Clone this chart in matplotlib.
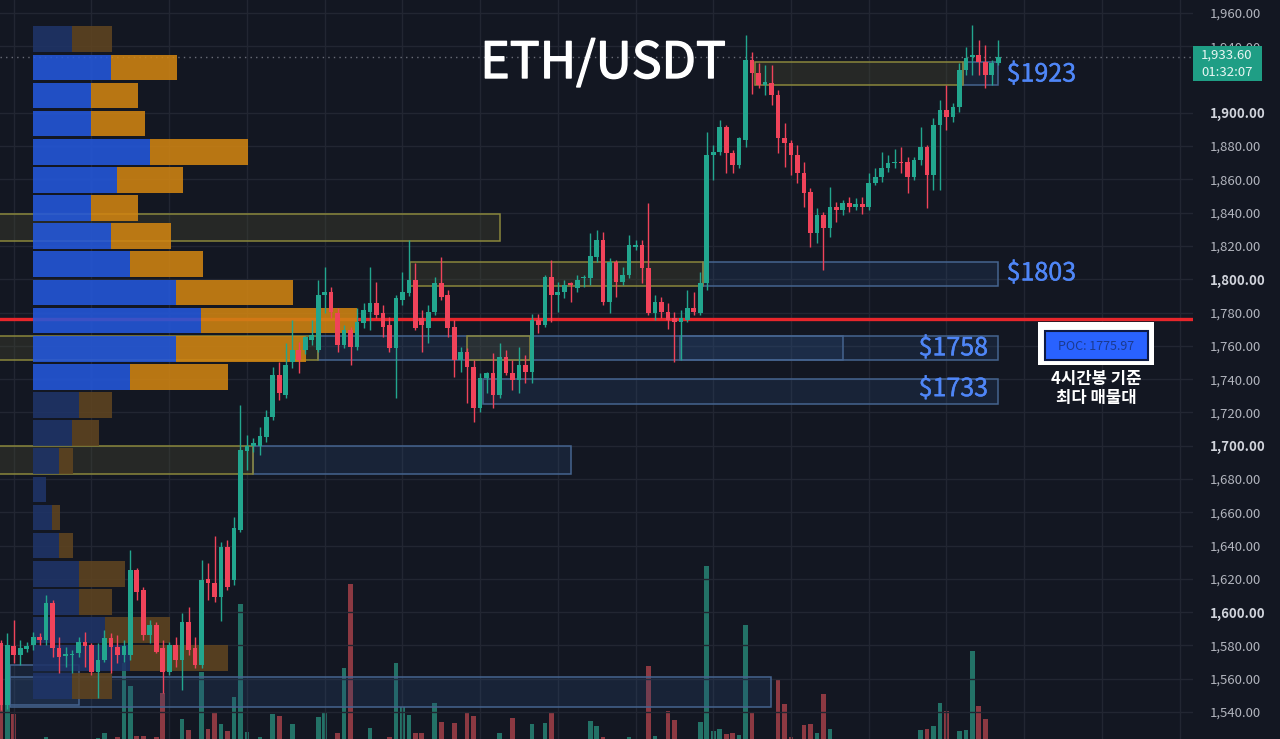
import numpy as np
import matplotlib.pyplot as plt
import matplotlib.transforms as mtransforms
import matplotlib.patheffects as pe
from matplotlib.patches import Rectangle

plt.rcParams['font.family'] = ['Noto Sans CJK KR', 'DejaVu Sans']

# ---- 4h candles (ETH/USDT) ----
opens = [1581.5, 1544.2, 1579.7, 1574.3, 1577.9, 1580.3, 1585.1, 1583.3, 1605.5, 1578.5,
         1573.6, 1574.3, 1575.5, 1582.1, 1580.3, 1564.0, 1571.2, 1584.5, 1579.1, 1574.3,
         1574.3, 1625.3, 1613.3, 1586.3, 1592.3, 1578.5, 1564.0, 1580.3, 1571.2, 1594.1,
         1578.5, 1568.2, 1619.9, 1617.5, 1609.1, 1639.2, 1619.3, 1649.4, 1696.8, 1699.8,
         1699.8, 1705.2, 1717.3, 1742.5, 1730.5, 1750.3, 1757.5, 1757.5, 1763.5, 1757.5,
         1790.6, 1792.4, 1779.7, 1760.5, 1769.5, 1759.3, 1773.7, 1780.3, 1785.7, 1779.7,
         1772.5, 1758.7, 1787.6, 1791.8, 1799.6, 1776.7, 1770.7, 1780.3, 1797.8, 1790.6,
         1771.3, 1751.5, 1756.3, 1747.3, 1722.7, 1740.7, 1743.7, 1730.5, 1753.3, 1743.7,
         1739.5, 1748.5, 1744.3, 1775.5, 1772.5, 1801.4, 1790.6, 1792.4, 1797.8, 1794.8,
         1800.8, 1800.8, 1813.4, 1823.6, 1786.3, 1810.4, 1798.4, 1802.6, 1819.4, 1820.6,
         1806.8, 1779.7, 1786.3, 1780.3, 1776.7, 1774.3, 1775.5, 1782.7, 1779.7, 1797.8,
         1874.7, 1876.5, 1891.5, 1875.9, 1868.7, 1883.7, 1931.7, 1923.9, 1916.7, 1917.9,
         1910.7, 1884.9, 1881.9, 1874.7, 1863.8, 1852.4, 1827.8, 1838.6, 1830.8, 1843.4,
         1841.6, 1845.8, 1843.4, 1845.2, 1843.4, 1857.8, 1861.4, 1866.9, 1869.9, 1870.5,
         1870.5, 1861.4, 1871.7, 1879.5, 1862.6, 1892.7, 1901.7, 1897.5, 1903.5, 1925.7,
         1933.6, 1934.8, 1930.6, 1922.7, 1930.0]
closes = [1544.2, 1580.3, 1574.3, 1578.5, 1579.7, 1585.1, 1583.3, 1605.5, 1578.5, 1573.0,
          1574.9, 1574.9, 1582.1, 1579.7, 1564.0, 1571.2, 1584.5, 1579.1, 1574.3, 1579.7,
          1625.3, 1612.1, 1586.3, 1592.3, 1576.1, 1564.0, 1580.3, 1571.2, 1594.1, 1577.3,
          1568.2, 1619.3, 1617.5, 1609.1, 1639.2, 1615.1, 1650.6, 1697.4, 1699.8, 1701.6,
          1705.8, 1717.3, 1742.5, 1731.7, 1748.5, 1757.5, 1751.5, 1765.3, 1766.5, 1790.6,
          1792.4, 1780.3, 1760.5, 1769.5, 1759.3, 1774.3, 1781.5, 1785.7, 1778.5, 1771.3,
          1758.7, 1788.7, 1792.4, 1799.6, 1770.7, 1772.5, 1780.3, 1797.8, 1789.4, 1770.7,
          1751.5, 1756.3, 1747.3, 1722.7, 1740.7, 1743.7, 1730.5, 1753.3, 1743.7, 1739.5,
          1748.5, 1744.3, 1775.5, 1772.5, 1801.4, 1790.6, 1792.4, 1796.6, 1796.6, 1799.6,
          1801.4, 1814.0, 1823.6, 1786.3, 1810.4, 1798.4, 1802.6, 1820.6, 1820.6, 1806.8,
          1779.7, 1786.3, 1780.3, 1775.5, 1774.3, 1776.7, 1782.7, 1780.3, 1797.8, 1874.7,
          1876.5, 1891.5, 1875.9, 1868.7, 1884.9, 1931.7, 1923.9, 1916.7, 1918.5, 1910.7,
          1884.9, 1881.9, 1874.7, 1863.8, 1851.8, 1827.8, 1838.6, 1830.8, 1843.4, 1841.6,
          1845.8, 1843.4, 1845.2, 1843.4, 1857.8, 1861.4, 1866.9, 1869.9, 1870.5, 1869.9,
          1861.4, 1871.7, 1879.5, 1862.6, 1892.7, 1901.7, 1897.5, 1903.5, 1925.7, 1933.0,
          1934.8, 1930.6, 1922.7, 1930.0, 1933.6]
highs = [1583.0, 1587.4, 1595.3, 1583.3, 1582.1, 1588.0, 1587.4, 1610.3, 1607.3, 1585.1,
         1579.1, 1577.3, 1585.1, 1588.0, 1581.5, 1581.5, 1589.3, 1587.4, 1586.3, 1583.3,
         1637.3, 1626.5, 1615.1, 1595.3, 1594.1, 1583.3, 1582.1, 1585.1, 1599.5, 1603.1,
         1585.1, 1631.3, 1629.3, 1645.8, 1642.1, 1643.2, 1657.0, 1724.5, 1706.4, 1704.4,
         1711.2, 1721.3, 1747.3, 1750.3, 1761.7, 1775.5, 1762.3, 1766.0, 1775.5, 1799.6,
         1807.2, 1795.4, 1782.7, 1772.5, 1771.3, 1782.7, 1785.7, 1807.4, 1798.4, 1784.5,
         1777.3, 1790.6, 1804.4, 1823.6, 1809.8, 1781.5, 1784.5, 1801.4, 1813.4, 1793.6,
         1775.3, 1759.3, 1758.7, 1751.5, 1743.7, 1744.3, 1755.7, 1761.7, 1757.5, 1751.5,
         1759.3, 1754.5, 1779.1, 1779.1, 1802.6, 1811.6, 1798.4, 1799.6, 1798.4, 1802.6,
         1802.6, 1827.8, 1829.4, 1828.2, 1812.8, 1811.6, 1807.4, 1826.6, 1823.6, 1823.6,
         1845.8, 1790.6, 1789.4, 1785.7, 1780.3, 1781.5, 1793.6, 1792.4, 1804.4, 1888.5,
         1880.7, 1895.7, 1892.7, 1877.7, 1885.5, 1946.8, 1936.6, 1930.0, 1928.7, 1928.7,
         1913.7, 1893.9, 1883.7, 1880.7, 1870.5, 1854.8, 1842.8, 1840.4, 1855.4, 1846.4,
         1847.6, 1849.4, 1848.8, 1849.4, 1863.8, 1866.9, 1876.5, 1874.7, 1878.3, 1879.5,
         1873.5, 1873.5, 1891.5, 1880.7, 1896.9, 1907.7, 1916.7, 1905.9, 1930.0, 1939.6,
         1952.8, 1943.6, 1940.8, 1931.7, 1943.6]
lows = [1541.0, 1542.0, 1569.5, 1568.2, 1576.1, 1577.3, 1580.3, 1580.3, 1573.0, 1563.4,
        1567.0, 1563.4, 1573.0, 1567.0, 1562.2, 1548.4, 1570.0, 1563.4, 1569.5, 1570.0,
        1571.2, 1607.3, 1583.3, 1581.5, 1575.5, 1551.4, 1562.2, 1567.3, 1553.2, 1574.3,
        1566.2, 1566.2, 1607.1, 1606.1, 1594.9, 1613.3, 1616.3, 1648.2, 1685.4, 1696.2,
        1694.4, 1702.0, 1715.3, 1727.3, 1728.7, 1746.7, 1743.7, 1755.0, 1760.5, 1756.3,
        1779.7, 1776.7, 1756.3, 1758.7, 1748.5, 1757.5, 1770.7, 1769.5, 1776.7, 1765.3,
        1756.3, 1728.7, 1784.5, 1790.0, 1769.5, 1756.3, 1761.7, 1778.5, 1787.6, 1765.3,
        1741.1, 1744.3, 1725.5, 1714.1, 1720.3, 1731.7, 1722.7, 1728.7, 1742.5, 1733.5,
        1731.7, 1737.7, 1737.7, 1767.5, 1771.3, 1774.3, 1780.3, 1788.7, 1786.3, 1792.4,
        1795.4, 1796.6, 1810.4, 1784.5, 1779.7, 1789.4, 1796.6, 1800.8, 1817.6, 1797.8,
        1778.5, 1775.5, 1776.7, 1770.1, 1750.3, 1751.5, 1774.3, 1778.5, 1778.5, 1793.6,
        1859.7, 1874.7, 1863.8, 1863.8, 1866.9, 1879.5, 1911.3, 1914.9, 1910.7, 1904.7,
        1875.9, 1867.3, 1862.6, 1857.8, 1843.4, 1819.4, 1821.8, 1805.6, 1825.4, 1834.4,
        1838.6, 1840.4, 1841.6, 1839.2, 1841.6, 1856.6, 1858.4, 1864.4, 1866.9, 1863.8,
        1851.8, 1859.7, 1868.7, 1842.8, 1853.6, 1853.6, 1889.7, 1894.5, 1900.5, 1922.7,
        1922.7, 1922.7, 1914.9, 1916.7, 1928.7]
volumes = [55, 60, 46, 15, 12, 18, 14, 23, 18, 12, 10, 14, 16, 12, 15, 22, 27, 15, 23, 97,
           74, 24, 24, 15, 23, 67, 15, 18, 41, 30, 16, 88, 31, 47, 36, 29, 63, 156, 28, 15,
           23, 18, 46, 44, 17, 36, 15, 14, 16, 43, 47, 18, 27, 92, 176, 18, 16, 32, 17, 15,
           23, 97, 53, 45, 27, 27, 16, 57, 38, 17, 37, 15, 48, 44, 18, 14, 16, 27, 15, 42,
           16, 13, 36, 15, 37, 48, 14, 12, 16, 13, 15, 39, 34, 23, 18, 16, 14, 23, 15, 18,
           94, 24, 17, 49, 40, 16, 18, 15, 38, 194, 29, 31, 26, 27, 25, 135, 47, 18, 14, 19,
           80, 56, 23, 18, 35, 36, 27, 66, 31, 12, 10, 9, 11, 10, 15, 13, 14, 12, 11, 10,
           16, 14, 30, 31, 34, 57, 49, 18, 29, 30, 109, 54, 41, 16, 14]

# volume profile (visible range), one row per price level
profile_levels = [1944.2, 1927.3, 1910.4, 1893.5, 1876.6, 1859.7, 1842.8, 1825.9,
                  1809.0, 1792.1, 1775.2, 1758.3, 1741.4, 1724.5, 1707.6, 1690.7,
                  1673.8, 1656.9, 1640.0, 1623.1, 1606.2, 1589.3, 1572.4, 1555.5]
profile_up = [39, 78, 58, 58, 117, 84, 58, 78, 97, 143, 168, 143, 97,
              46, 39, 26, 13, 19, 26, 46, 46, 72, 97, 39]
profile_down = [40, 66, 47, 54, 98, 66, 47, 60, 73, 117, 156, 130, 98,
                33, 27, 14, 0, 8, 14, 46, 33, 65, 98, 40]
value_area = [False] + [True] * 12 + [False] * 11

poc_price = 1775.97
last_price = 1933.60

# zones: (start bar, end bar, top, bottom)
yellow_zones = [(-1, 77.1, 1839.0, 1823.0), (63.2, 108.4, 1810.2, 1795.8),
                (116.4, 148.6, 1930.7, 1916.7), (-1, 49.0, 1765.7, 1751.3),
                (72.0, 81.7, 1765.7, 1751.3), (-1, 38.9, 1699.8, 1683.0)]
blue_zones = [(108.4, 154.0, 1810.2, 1795.8), (148.6, 154.0, 1930.7, 1916.7),
              (49.0, 130.0, 1765.7, 1751.3), (104.9, 154.0, 1765.7, 1751.3),
              (74.4, 154.0, 1740.0, 1725.0), (38.9, 88.0, 1699.8, 1683.0),
              (1.4, 118.9, 1561.0, 1543.0), (1.4, 12.1, 1568.2, 1544.2)]

level_labels = [('$1923', 1923.0, 'left'), ('$1803', 1803.5, 'left'),
                ('$1758', 1758.5, 'right'), ('$1733', 1734.0, 'right')]

# 1,920 sits under the last-price tag, so it is left out
price_ticks = [t for t in range(1540, 1961, 20) if t != 1920]
grid_bars = np.arange(2, 185, 12)

# ---- style ----
BG = '#131722'
UP, DOWN = '#22a68e', '#f0435a'
VOL_UP, VOL_DOWN = '#237267', '#8c3942'
LABEL = '#4f86f7'
W, H = 1280, 739

fig = plt.figure(figsize=(12.8, 7.39), dpi=100, facecolor=BG)
pane = [0, 0, 1193 / W, 1]
ax_v = fig.add_axes(pane, facecolor=BG, zorder=0)
ax = fig.add_axes(pane, zorder=1)
ax.patch.set_visible(False)

x = np.arange(len(opens))
o, c = np.array(opens), np.array(closes)
up = c >= o

# volume pane (baseline sits just under the bottom edge)
ax_v.bar(x, volumes, width=0.72, color=np.where(up, VOL_UP, VOL_DOWN))
ax_v.set_ylim(21, 760)
ax_v.set_xlim(-0.124, 184.07)
ax_v.set_xticks([])
ax_v.set_yticks([])
for s in ax_v.spines.values():
    s.set_visible(False)

ax.set_xlim(-0.124, 184.07)
ax.set_ylim(1523.8, 1967.8)
for s in ax.spines.values():
    s.set_visible(False)
ax.set_xticks(grid_bars)
ax.set_yticks(price_ticks, labels=[f'{t:,.2f}' for t in price_ticks])
ax.grid(color='#222632', lw=1)
ax.set_axisbelow(True)
ax.yaxis.tick_right()
ax.tick_params(axis='x', length=0, labelbottom=False)
ax.tick_params(axis='y', length=0, pad=12, labelsize=9.5, labelcolor='#b2b5be')
for lab, t in zip(ax.get_yticklabels(), price_ticks):
    if t % 100 == 0:
        lab.set_fontweight('bold')
        lab.set_color('#d1d4dc')

# zones
for x0, x1, top, bot in blue_zones:
    ax.add_patch(Rectangle((x0, bot), x1 - x0, top - bot, facecolor='#2a4a78', alpha=0.25,
                           edgecolor='none', zorder=1.5))
    ax.add_patch(Rectangle((x0, bot), x1 - x0, top - bot, facecolor='none',
                           edgecolor='#45648f', lw=1.1, zorder=1.6))
for x0, x1, top, bot in yellow_zones:
    ax.add_patch(Rectangle((x0, bot), x1 - x0, top - bot, facecolor='#4a4a30', alpha=0.35,
                           edgecolor='none', zorder=1.7))
    ax.add_patch(Rectangle((x0, bot), x1 - x0, top - bot, facecolor='none',
                           edgecolor='#8a873c', lw=1.1, zorder=1.8))

# POC + last price lines
ax.axhline(poc_price, color='#e8262b', lw=2.4, zorder=2.5)
ax.axhline(last_price, color='#6a6d78', lw=1, ls=(0, (1, 3)), zorder=2.4)

# volume profile on the left, width in pane fractions
prof = mtransforms.blended_transform_factory(ax.transAxes, ax.transData)
start = 33 / 1193
for lvl, vu, vd, va in zip(profile_levels, profile_up, profile_down, value_area):
    cu, cd = ('#2458dc', '#d08412') if va else ('#1f3468', '#5f4420')
    ax.add_patch(Rectangle((start, lvl - 7.7), vu / 1193, 15.4, transform=prof,
                           facecolor=cu, alpha=0.88, lw=0, zorder=3))
    ax.add_patch(Rectangle((start + vu / 1193, lvl - 7.7), vd / 1193, 15.4, transform=prof,
                           facecolor=cd, alpha=0.88, lw=0, zorder=3))

# candles
col = np.where(up, UP, DOWN)
ax.vlines(x, lows, highs, colors=col, lw=1, zorder=4)
ax.bar(x, np.maximum(np.abs(c - o), 0.6), bottom=np.minimum(o, c), width=0.72,
       color=col, zorder=5)

for txt, y, ha in level_labels:
    ax.text(155.3 if ha == 'left' else 152.4, y, txt, color=LABEL, fontsize=18,
            ha=ha, va='center', zorder=6,
            path_effects=[pe.withStroke(linewidth=0.3, foreground=LABEL)])

# overlays in pixel positions
fig.text(603 / W, 1 - 64 / H, 'ETH/USDT', color='white', fontsize=36,
         ha='center', va='center',
         path_effects=[pe.withStroke(linewidth=1.0, foreground='white')])

fig.add_artist(Rectangle((1193 / W, 1 - 81 / H), 69 / W, 35 / H, transform=fig.transFigure,
                         facecolor='#1f9e85', edgecolor='none', zorder=10))
fig.text(1227 / W, 1 - 55 / H, f'{last_price:,.2f}', color='#e9f6f3', fontsize=9.5,
         ha='center', va='center', zorder=11)
fig.text(1227 / W, 1 - 72 / H, '01:32:07', color='#e9f6f3', fontsize=9.5,
         ha='center', va='center', zorder=11)

fig.add_artist(Rectangle((1038 / W, 1 - 365 / H), 116 / W, 43 / H, transform=fig.transFigure,
                         facecolor='white', edgecolor='none', zorder=10))
fig.add_artist(Rectangle((1045 / W, 1 - 360 / H), 103 / W, 29 / H, transform=fig.transFigure,
                         facecolor='#2962ff', edgecolor='#0e1a44', lw=1.5, zorder=11))
fig.text(1096 / W, 1 - 346 / H, f'POC: {poc_price}', color='#1b3a8f', fontsize=9,
         ha='center', va='center', zorder=12)
fig.text(1096 / W, 1 - 379 / H, '4시간봉 기준', color='white', fontsize=12,
         fontweight='bold', ha='center', va='center', zorder=12)
fig.text(1096 / W, 1 - 398 / H, '최다 매물대', color='white', fontsize=12,
         fontweight='bold', ha='center', va='center', zorder=12)

fig.savefig('out.png', dpi=100, facecolor=BG)
